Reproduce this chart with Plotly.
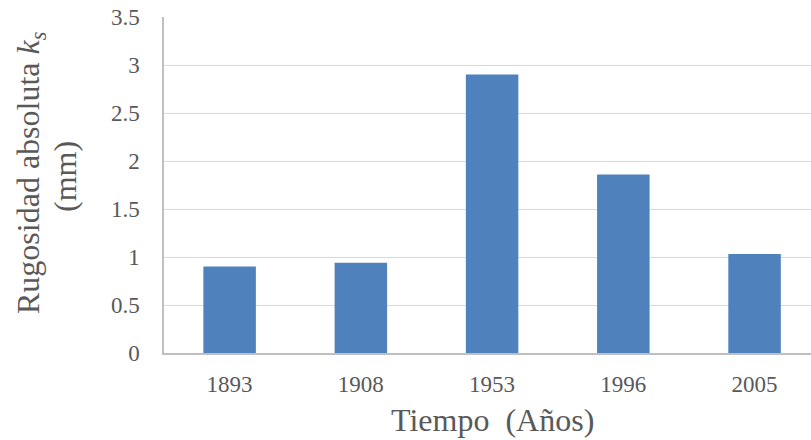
import plotly.graph_objects as go

years = ["1893", "1908", "1953", "1996", "2005"]
rugosidad = [0.90, 0.94, 2.90, 1.86, 1.03]
y_ticks = [0, 0.5, 1, 1.5, 2, 2.5, 3, 3.5]
y_tick_labels = ["0", "0.5", "1", "1.5", "2", "2.5", "3", "3.5"]

FONT = "Liberation Serif, Times New Roman, serif"
GREY = "#595959"

fig = go.Figure()
fig.add_trace(go.Bar(x=years, y=rugosidad, marker=dict(color="#4F81BD", line=dict(width=0)),
                     width=0.4))

fig.update_layout(
    width=811, height=440,
    margin=dict(l=164, r=0, t=17, b=87.3, autoexpand=False),
    plot_bgcolor="white", paper_bgcolor="white",
    showlegend=False,
    font=dict(family=FONT, color=GREY),
)
fig.update_xaxes(
    type="category", range=[-0.5, 4.43], automargin=False,
    showline=True, linecolor="#BFBFBF", linewidth=1.5,
    showgrid=False, ticks="", tickfont=dict(size=23, color=GREY),
    ticklabelstandoff=10,
)
fig.update_yaxes(
    range=[0, 3.5], tickvals=y_ticks, ticktext=y_tick_labels, automargin=False,
    showline=True, linecolor="#BFBFBF", linewidth=1.5,
    showgrid=True, gridcolor="#D9D9D9", gridwidth=1.3,
    zeroline=False, ticks="", tickfont=dict(size=23, color=GREY),
    ticklabelstandoff=18,
)
fig.add_annotation(
    text="Rugosidad absoluta <i>k<sub>s</sub></i>",
    xref="paper", yref="paper", x=0, y=0.5, xanchor="center", yanchor="middle",
    xshift=-134, yshift=12, textangle=-90, showarrow=False,
    font=dict(size=32, color=GREY, family=FONT),
)
fig.add_annotation(
    text="(mm)",
    xref="paper", yref="paper", x=0, y=0.5, xanchor="center", yanchor="middle",
    xshift=-99, yshift=8, textangle=-90, showarrow=False,
    font=dict(size=32, color=GREY, family=FONT),
)
fig.add_annotation(
    text="Tiempo  (Años)",
    xref="paper", yref="paper", x=0.508, y=0, xanchor="center", yanchor="middle",
    yshift=-67, showarrow=False,
    font=dict(size=32, color=GREY, family=FONT),
)
fig.write_html(
    "out.html",
    config={"displayModeBar": False},
    post_script="document.body.style.margin='0';document.body.style.overflow='hidden';",
)
